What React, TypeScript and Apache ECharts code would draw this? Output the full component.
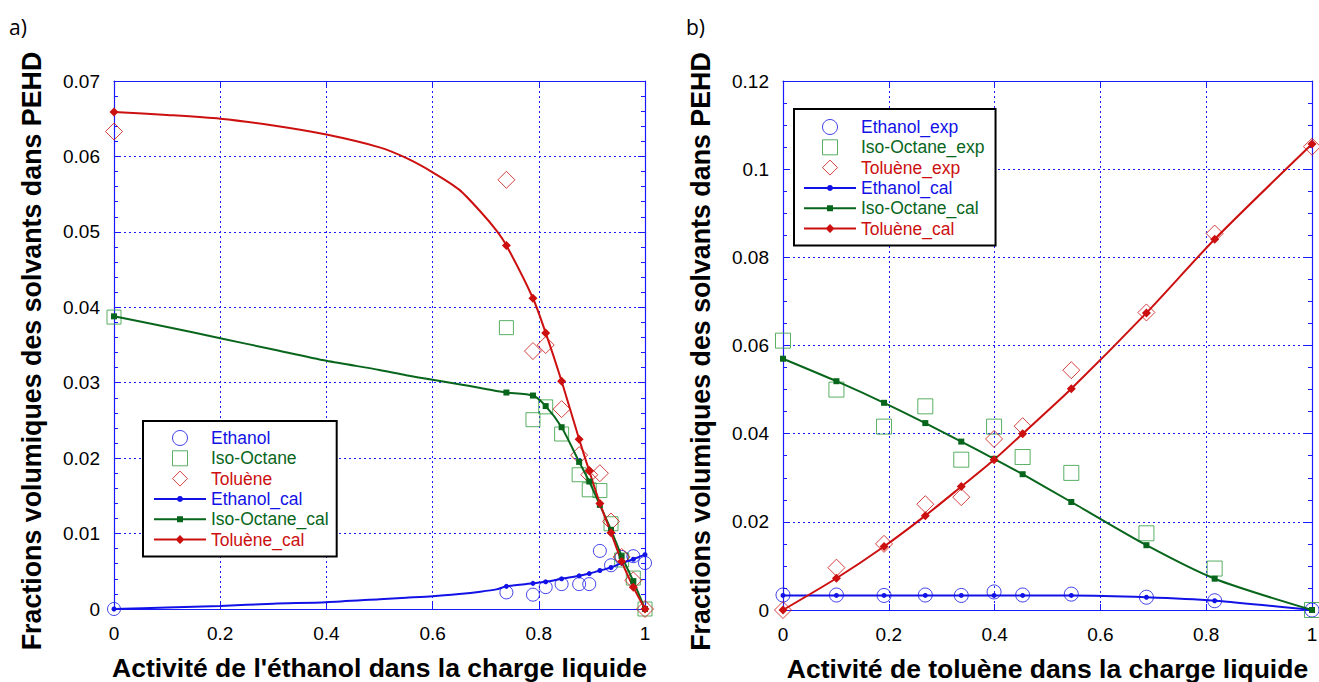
import React, { useEffect, useRef } from 'react';
import * as echarts from 'echarts';

// ---------- Data: plot a) ----------
const leftX = [0, 0.739, 0.789, 0.813, 0.843, 0.876, 0.895, 0.915, 0.936, 0.956, 0.978, 1];
const leftEthanolExp = [0, 0.0022, 0.0019, 0.0029, 0.0033, 0.0033, 0.0033, 0.0077, 0.0058, 0.0069, 0.007, 0.0061];
const leftIsoOctaneExp = [0.0387, 0.0373, 0.0251, 0.0268, 0.0232, 0.0178, 0.0158, 0.0157, 0.0113, 0.0065, 0.0041, 0];
const leftTolueneExp = [0.0633, 0.0569, 0.0342, 0.035, 0.0265, 0.0204, 0.0178, 0.018, 0.0116, 0.0069, 0.0038, 0];
const leftEthanolCal = [0, 0.003, 0.0034, 0.0036, 0.004, 0.0044, 0.0047, 0.0051, 0.0055, 0.0061, 0.0066, 0.0072];
const leftIsoOctaneCal = [0.0388, 0.0287, 0.0283, 0.0269, 0.0241, 0.0195, 0.0169, 0.0138, 0.0105, 0.007, 0.0037, 0];
const leftTolueneCal = [0.0659, 0.0482, 0.0412, 0.0366, 0.0302, 0.0225, 0.0183, 0.014, 0.0101, 0.0063, 0.0029, 0];
// points, between the markers
const leftCurveX = [0.1, 0.2, 0.3, 0.4, 0.5, 0.55, 0.6, 0.65, 0.69, 0.72];
const leftEthanolCurve = [0.0002, 0.0004, 0.0007, 0.0009, 0.0013, 0.0015, 0.0017, 0.002, 0.0023, 0.0026];
const leftIsoOctaneCurve = [0.0374, 0.0359, 0.0344, 0.0329, 0.0317, 0.031, 0.0304, 0.0298, 0.0293, 0.0289];
const leftTolueneCurve = [0.0655, 0.065, 0.0641, 0.0629, 0.0612, 0.0598, 0.0579, 0.0556, 0.0527, 0.0502];

// ---------- Data: plot b) ----------
const rightX = [0, 0.101, 0.191, 0.269, 0.337, 0.399, 0.453, 0.545, 0.687, 0.816, 1];
const rightEthanolExp = [0.0034, 0.0034, 0.0033, 0.0034, 0.0033, 0.0041, 0.0034, 0.0036, 0.0029, 0.0021, 0];
const rightIsoOctaneExp = [0.0611, 0.05, 0.0416, 0.0462, 0.0341, 0.0416, 0.0347, 0.0311, 0.0174, 0.0094, 0];
const rightTolueneExp = [0, 0.0096, 0.015, 0.024, 0.0256, 0.0388, 0.0417, 0.0544, 0.0675, 0.0854, 0.1051];
const rightEthanolCal = [0.0033, 0.0033, 0.0033, 0.0033, 0.0033, 0.0033, 0.0033, 0.0033, 0.0029, 0.0021, 0];
const rightIsoOctaneCal = [0.057, 0.0519, 0.047, 0.0424, 0.0382, 0.0343, 0.0308, 0.0245, 0.0147, 0.0071, 0];
const rightTolueneCal = [0, 0.0072, 0.0144, 0.0214, 0.028, 0.0341, 0.04, 0.0502, 0.0674, 0.0841, 0.1057];

const xTicks = { min: 0, max: 1, interval: 0.2 };
const leftYTicks = { min: 0, max: 0.07, interval: 0.01, minor: 5 };
const rightYTicks = { min: 0, max: 0.12, interval: 0.02, minor: 4 };

// ---------- Styles ----------
const BLUE = '#1212e6';
const GREEN = '#08661c';
const GREEN_EXP = '#2f9c3d';
const RED = '#cc1010';
const AXIS = '#1a1aff';
const FONT = '"Liberation Sans", Arial, Helvetica, sans-serif';
const TITLE_SIZE = 26.5;

const ICON_CIRCLE =
  'path://M0,3L52,3L52,5L0,5Z M29,4L28.6,5.5L27.5,6.6L26,7L24.5,6.6L23.4,5.5L23,4L23.4,2.5L24.5,1.4L26,1L27.5,1.4L28.6,2.5Z';
const ICON_SQUARE = 'path://M0,3L52,3L52,5L0,5Z M23,1L29,1L29,7L23,7Z';
const ICON_DIAMOND = 'path://M0,3.25L52,3.25L52,5.25L0,5.25Z M26,-0.25L30.5,4.25L26,8.75L21.5,4.25Z';
const ICON_OPEN_SQUARE = 'path://M0,0L14,0L14,14L0,14Z';
const ICON_OPEN_DIAMOND = 'path://M8,0L16,8L8,16L0,8Z';

function xAxes(gridIndex: number, name: string) {
  return [
    {
      type: 'value',
      gridIndex,
      position: 'bottom',
      ...xTicks,
      name,
      nameLocation: 'middle',
      nameGap: 45,
      nameTextStyle: { fontFamily: FONT, fontSize: TITLE_SIZE, fontWeight: 'bold', color: '#000' },
      axisLine: { show: true, onZero: false, lineStyle: { color: AXIS, width: 1.2 } },
      axisTick: { show: true, inside: true, length: 6, lineStyle: { color: AXIS, width: 1 } },
      axisLabel: { color: '#000', fontFamily: FONT, fontSize: 19, margin: 15 },
      splitLine: { show: true, lineStyle: { color: AXIS, type: [2, 3], width: 1 } },
    },
    {
      type: 'value',
      gridIndex,
      position: 'top',
      ...xTicks,
      axisLine: { show: true, onZero: false, lineStyle: { color: AXIS, width: 1.2 } },
      axisTick: { show: true, inside: true, length: 6, lineStyle: { color: AXIS, width: 1 } },
      axisLabel: { show: false },
      splitLine: { show: false },
    },
  ];
}

function yAxes(gridIndex: number, t: { min: number; max: number; interval: number; minor: number }, name: string) {
  return [
    {
      type: 'value',
      gridIndex,
      position: 'left',
      min: t.min,
      max: t.max,
      interval: t.interval,
      name,
      nameLocation: 'middle',
      nameGap: 69,
      nameTextStyle: {
        fontFamily: FONT,
        fontSize: 26.8,
        fontWeight: 'bold',
        color: '#000',
        padding: [0, 12, 0, 0],
      },
      axisLine: { show: true, onZero: false, lineStyle: { color: AXIS, width: 1.2 } },
      axisTick: { show: true, inside: true, length: 7, lineStyle: { color: AXIS, width: 1 } },
      minorTick: { show: true, splitNumber: t.minor, length: 4, lineStyle: { color: AXIS, width: 1 } },
      axisLabel: { color: '#000', fontFamily: FONT, fontSize: 19, margin: 14 },
      splitLine: { show: true, lineStyle: { color: AXIS, type: [2, 3], width: 1 } },
    },
    {
      type: 'value',
      gridIndex,
      position: 'right',
      min: t.min,
      max: t.max,
      interval: t.interval,
      axisLine: { show: true, onZero: false, lineStyle: { color: AXIS, width: 1.2 } },
      axisTick: { show: true, inside: true, length: 7, lineStyle: { color: AXIS, width: 1 } },
      minorTick: { show: true, splitNumber: t.minor, length: 4, lineStyle: { color: AXIS, width: 1 } },
      axisLabel: { show: false },
      splitLine: { show: false },
    },
  ];
}

function expSeries(name: string, xs: number[], ys: number[], symbol: string, size: number, color: string, axis: number) {
  return {
    type: 'scatter',
    name,
    xAxisIndex: axis,
    yAxisIndex: axis,
    data: xs.map((x, i) => [x, ys[i]]),
    symbol,
    symbolSize: size,
    itemStyle: { color: 'transparent', borderColor: color, borderWidth: 1 },
    clip: false,
    z: 3,
  };
}

function calSeries(
  name: string,
  xs: number[],
  ys: number[],
  cx: number[],
  cy: number[],
  symbol: string,
  size: number,
  color: string,
  axis: number,
  smooth: number,
) {
  const pts: any[] = [
    ...xs.map((x, i) => ({ value: [x, ys[i]] })),
    ...cx.map((x, i) => ({ value: [x, cy[i]], symbol: 'none' })),
  ].sort((a, b) => a.value[0] - b.value[0]);
  return {
    type: 'line',
    name,
    xAxisIndex: axis,
    yAxisIndex: axis,
    data: pts,
    smooth,
    symbol,
    symbolSize: size,
    showSymbol: true,
    showAllSymbol: true,
    lineStyle: { color, width: 2 },
    itemStyle: { color },
    clip: false,
    z: 4,
  };
}

function legendData(names: string[]) {
  return [
    { name: names[0], textStyle: { color: BLUE }, itemStyle: { borderWidth: 1 } },
    { name: names[1], icon: ICON_OPEN_SQUARE, textStyle: { color: GREEN }, itemStyle: { borderWidth: 1 } },
    { name: names[2], icon: ICON_OPEN_DIAMOND, textStyle: { color: RED }, itemStyle: { borderWidth: 1 } },
    { name: names[3], icon: ICON_CIRCLE, textStyle: { color: BLUE }, itemStyle: { borderWidth: 0 } },
    { name: names[4], icon: ICON_SQUARE, textStyle: { color: GREEN }, itemStyle: { borderWidth: 0 } },
    { name: names[5], icon: ICON_DIAMOND, textStyle: { color: RED }, itemStyle: { borderWidth: 0 } },
  ];
}

const legendBase = {
  orient: 'vertical',
  itemWidth: 52,
  itemHeight: 15,
  itemGap: 2.3,
  symbolKeepAspect: true,
  borderColor: '#000',
  borderWidth: 2,
  backgroundColor: '#fff',
  selectedMode: false,
  textStyle: { fontFamily: FONT, fontSize: 17.5, lineHeight: 18 },
  z: 10,
};

export default function App() {
  const ref = useRef<HTMLDivElement>(null);
  useEffect(() => {
    if (!ref.current) return;
    const chart = echarts.init(ref.current, undefined, { renderer: 'svg' });
    const yName = 'Fractions volumiques des solvants dans PEHD';
    const option: any = {
      animation: false,
      backgroundColor: '#fff',
      grid: [
        { left: 114, top: 81, width: 531, height: 528, outerBoundsMode: 'none', containLabel: false },
        { left: 783, top: 81, width: 529, height: 529, outerBoundsMode: 'none', containLabel: false },
      ],
      xAxis: [
        ...xAxes(0, "Activité de l'éthanol dans la charge liquide"),
        ...xAxes(1, 'Activité de toluène dans la charge liquide'),
      ],
      yAxis: [...yAxes(0, leftYTicks, yName), ...yAxes(1, rightYTicks, yName)],
      legend: [
        {
          ...legendBase,
          left: 143,
          top: 421,
          padding: [8, 8, 8, 11],
          data: legendData(['Ethanol', 'Iso-Octane', 'Toluène', 'Ethanol_cal', 'Iso-Octane_cal', 'Toluène_cal']),
        },
        {
          ...legendBase,
          left: 794,
          top: 109,
          padding: [9, 11, 8, 10],
          data: legendData(['Ethanol_exp', 'Iso-Octane_exp', 'Toluène_exp', 'Ethanol_cal', 'Iso-Octane_cal', 'Toluène_cal']),
        },
      ],
      graphic: [
        { type: 'text', left: 9, top: 16, style: { text: 'a)', fontFamily: '"Open Sans", sans-serif', fontSize: 21, fill: '#000' } },
        { type: 'text', left: 686, top: 16, style: { text: 'b)', fontFamily: '"Open Sans", sans-serif', fontSize: 21, fill: '#000' } },
      ],
      series: [
        expSeries('Ethanol', leftX, leftEthanolExp, 'circle', 13, BLUE, 0),
        expSeries('Iso-Octane', leftX, leftIsoOctaneExp, 'rect', 14, GREEN_EXP, 0),
        expSeries('Toluène', leftX, leftTolueneExp, 'diamond', 17, RED, 0),
        calSeries('Ethanol_cal', leftX, leftEthanolCal, leftCurveX, leftEthanolCurve, 'circle', 5, BLUE, 0, 0.25),
        calSeries('Iso-Octane_cal', leftX, leftIsoOctaneCal, leftCurveX, leftIsoOctaneCurve, 'rect', 6, GREEN, 0, 0.25),
        calSeries('Toluène_cal', leftX, leftTolueneCal, leftCurveX, leftTolueneCurve, 'diamond', 9, RED, 0, 0.25),
        expSeries('Ethanol_exp', rightX, rightEthanolExp, 'circle', 14, BLUE, 2),
        expSeries('Iso-Octane_exp', rightX, rightIsoOctaneExp, 'rect', 15, GREEN_EXP, 2),
        expSeries('Toluène_exp', rightX, rightTolueneExp, 'diamond', 17, RED, 2),
        calSeries('Ethanol_cal', rightX, rightEthanolCal, [], [], 'circle', 5, BLUE, 2, 0.25),
        calSeries('Iso-Octane_cal', rightX, rightIsoOctaneCal, [], [], 'rect', 6, GREEN, 2, 0.25),
        calSeries('Toluène_cal', rightX, rightTolueneCal, [], [], 'diamond', 9, RED, 2, 0.25),
      ],
    };
    chart.setOption(option);
    return () => chart.dispose();
  }, []);
  return <div ref={ref} style={{ position: 'absolute', left: 0, top: 0, width: 1319, height: 682 }} />;
}
